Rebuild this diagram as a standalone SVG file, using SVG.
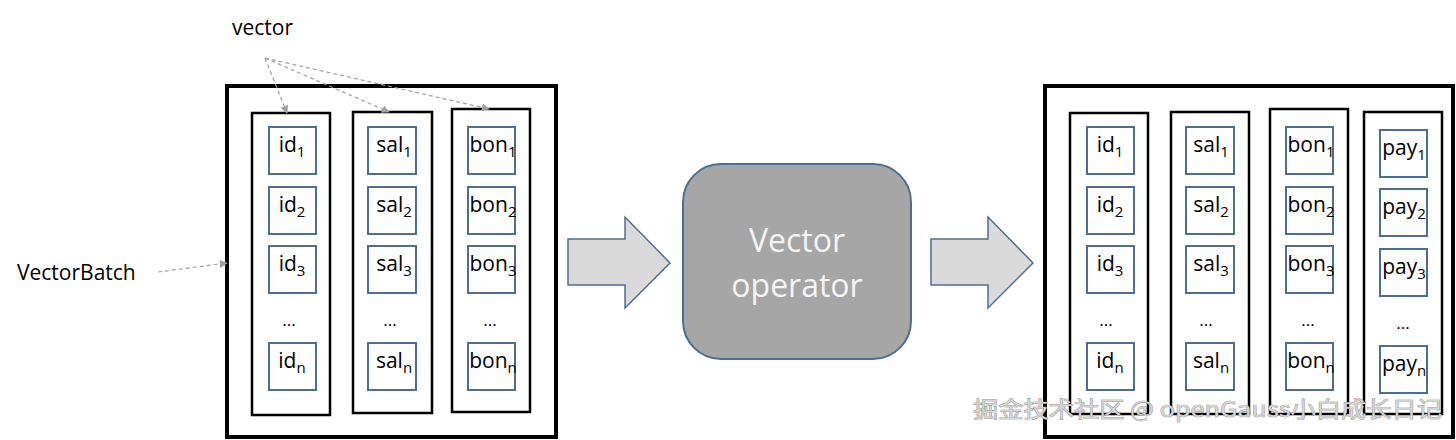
<svg xmlns="http://www.w3.org/2000/svg" width="1456" height="440" viewBox="0 0 1456 440">
<style>
text{font-family:"Open Sans","Noto Sans","Liberation Sans",sans-serif;fill:#000}
.outer{fill:#fff;stroke:#000;stroke-width:4}
.col{fill:#fff;stroke:#000;stroke-width:2.5}
.cell{fill:#fff;stroke:#4a6f93;stroke-width:2}
.ct{font-size:21px;text-anchor:middle}
.sub{font-size:15px}
.dots{font-size:17px;text-anchor:middle}
.lbl{font-size:21px}
.dash{fill:none;stroke:#a0a0a0;stroke-width:1.2;stroke-dasharray:4 3}
.bigarrow{fill:#dadada;stroke:#4f6f94;stroke-width:1.5}
.op{fill:#a6a6a6;stroke:#4a6f93;stroke-width:2}
.opt{font-size:32px;fill:#f4f4f4;text-anchor:middle}
.wm{font-family:"Noto Sans CJK SC","Noto Sans",sans-serif;font-size:22px;fill:#d4d4d4;stroke:#7c7c7c;stroke-width:0.7;paint-order:stroke}
</style>
<defs>
<marker id="ah" viewBox="0 0 10 10" refX="9" refY="5" markerWidth="8" markerHeight="8" orient="auto" markerUnits="userSpaceOnUse">
<path d="M0,0 L10,5 L0,10 Z" fill="#a0a0a0"/>
</marker>
</defs>

<g id="label-vector"><text class="lbl" x="232" y="35">vector</text></g>
<g id="label-vectorbatch"><text class="lbl" x="17" y="280">VectorBatch</text></g>

<g id="batch-in">
<rect class="outer" x="227" y="86" width="329" height="351"/>
<g id="in-col-id">
<rect class="col" x="252" y="113" width="78" height="302"/>
<rect class="cell" x="269" y="127" width="47" height="47"/><text class="ct" x="292" y="152">id<tspan class="sub" dy="5">1</tspan></text>
<rect class="cell" x="269" y="187" width="47" height="47"/><text class="ct" x="292" y="212">id<tspan class="sub" dy="5">2</tspan></text>
<rect class="cell" x="269" y="246" width="47" height="47"/><text class="ct" x="292" y="271">id<tspan class="sub" dy="5">3</tspan></text>
<text class="dots" x="289" y="326">...</text>
<rect class="cell" x="269" y="343" width="47" height="47"/><text class="ct" x="292" y="368">id<tspan class="sub" dy="5">n</tspan></text>
</g>
<g id="in-col-sal">
<rect class="col" x="353" y="112" width="79" height="301"/>
<rect class="cell" x="368" y="127" width="48" height="47"/><text class="ct" x="394" y="152">sal<tspan class="sub" dy="5">1</tspan></text>
<rect class="cell" x="368" y="187" width="48" height="47"/><text class="ct" x="394" y="212">sal<tspan class="sub" dy="5">2</tspan></text>
<rect class="cell" x="368" y="246" width="48" height="47"/><text class="ct" x="394" y="271">sal<tspan class="sub" dy="5">3</tspan></text>
<text class="dots" x="390" y="326">...</text>
<rect class="cell" x="368" y="343" width="48" height="47"/><text class="ct" x="394" y="368">sal<tspan class="sub" dy="5">n</tspan></text>
</g>
<g id="in-col-bon">
<rect class="col" x="452" y="109" width="78" height="303"/>
<rect class="cell" x="468" y="127" width="47" height="47"/><text class="ct" x="493" y="152">bon<tspan class="sub" dy="5">1</tspan></text>
<rect class="cell" x="468" y="187" width="47" height="47"/><text class="ct" x="493" y="212">bon<tspan class="sub" dy="5">2</tspan></text>
<rect class="cell" x="468" y="246" width="47" height="47"/><text class="ct" x="493" y="271">bon<tspan class="sub" dy="5">3</tspan></text>
<text class="dots" x="490" y="326">...</text>
<rect class="cell" x="468" y="343" width="47" height="47"/><text class="ct" x="493" y="368">bon<tspan class="sub" dy="5">n</tspan></text>
</g>
</g>

<g id="arrow-in"><path class="bigarrow" d="M568,239 H625 V217 L670,263 L625,308 V285 H568 Z"/></g>

<g id="vector-operator">
<rect class="op" x="683" y="164" width="228" height="195" rx="38" ry="38"/>
<text class="opt" x="797" y="252">Vector</text>
<text class="opt" x="797" y="297">operator</text>
</g>

<g id="arrow-out"><path class="bigarrow" d="M931,239 H988 V217 L1033,263 L988,308 V285 H931 Z"/></g>

<g id="batch-out">
<rect class="outer" x="1045" y="86" width="408" height="351"/>
<g id="out-col-id">
<rect class="col" x="1070" y="113" width="78" height="301"/>
<rect class="cell" x="1087" y="127" width="47" height="47"/><text class="ct" x="1110" y="152">id<tspan class="sub" dy="5">1</tspan></text>
<rect class="cell" x="1087" y="187" width="47" height="47"/><text class="ct" x="1110" y="212">id<tspan class="sub" dy="5">2</tspan></text>
<rect class="cell" x="1087" y="246" width="47" height="47"/><text class="ct" x="1110" y="271">id<tspan class="sub" dy="5">3</tspan></text>
<text class="dots" x="1106" y="326">...</text>
<rect class="cell" x="1087" y="343" width="47" height="47"/><text class="ct" x="1110" y="368">id<tspan class="sub" dy="5">n</tspan></text>
</g>
<g id="out-col-sal">
<rect class="col" x="1171" y="112" width="78" height="302"/>
<rect class="cell" x="1186" y="127" width="48" height="47"/><text class="ct" x="1211" y="152">sal<tspan class="sub" dy="5">1</tspan></text>
<rect class="cell" x="1186" y="187" width="48" height="47"/><text class="ct" x="1211" y="212">sal<tspan class="sub" dy="5">2</tspan></text>
<rect class="cell" x="1186" y="246" width="48" height="47"/><text class="ct" x="1211" y="271">sal<tspan class="sub" dy="5">3</tspan></text>
<text class="dots" x="1206" y="326">...</text>
<rect class="cell" x="1186" y="343" width="48" height="47"/><text class="ct" x="1211" y="368">sal<tspan class="sub" dy="5">n</tspan></text>
</g>
<g id="out-col-bon">
<rect class="col" x="1270" y="109" width="78" height="305"/>
<rect class="cell" x="1286" y="127" width="47" height="47"/><text class="ct" x="1311" y="152">bon<tspan class="sub" dy="5">1</tspan></text>
<rect class="cell" x="1286" y="187" width="47" height="47"/><text class="ct" x="1311" y="212">bon<tspan class="sub" dy="5">2</tspan></text>
<rect class="cell" x="1286" y="246" width="47" height="47"/><text class="ct" x="1311" y="271">bon<tspan class="sub" dy="5">3</tspan></text>
<text class="dots" x="1308" y="326">...</text>
<rect class="cell" x="1286" y="343" width="47" height="47"/><text class="ct" x="1311" y="368">bon<tspan class="sub" dy="5">n</tspan></text>
</g>
<g id="out-col-pay">
<rect class="col" x="1364" y="112" width="78" height="302"/>
<rect class="cell" x="1380" y="130" width="47" height="47"/><text class="ct" x="1404" y="155">pay<tspan class="sub" dy="5">1</tspan></text>
<rect class="cell" x="1380" y="189" width="47" height="47"/><text class="ct" x="1404" y="214">pay<tspan class="sub" dy="5">2</tspan></text>
<rect class="cell" x="1380" y="249" width="47" height="47"/><text class="ct" x="1404" y="274">pay<tspan class="sub" dy="5">3</tspan></text>
<text class="dots" x="1403" y="329">...</text>
<rect class="cell" x="1380" y="346" width="47" height="47"/><text class="ct" x="1404" y="371">pay<tspan class="sub" dy="5">n</tspan></text>
</g>
</g>

<g id="connectors">
<line class="dash" x1="265" y1="58" x2="287" y2="113" marker-end="url(#ah)"/>
<line class="dash" x1="265" y1="58" x2="389" y2="112" marker-end="url(#ah)"/>
<line class="dash" x1="265" y1="58" x2="489" y2="109" marker-end="url(#ah)"/>
<line class="dash" x1="158" y1="272" x2="227" y2="263" marker-end="url(#ah)"/>
</g>

<g id="watermark"><text class="wm" x="973" y="417" textLength="469" lengthAdjust="spacingAndGlyphs">掘金技术社区 @ openGauss小白成长日记</text></g>
</svg>
